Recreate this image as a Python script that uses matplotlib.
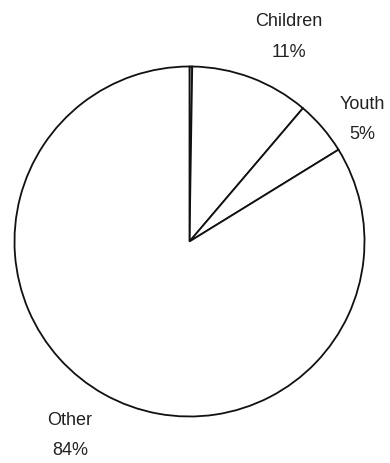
import matplotlib
matplotlib.use("Agg")
import matplotlib.pyplot as plt

plt.rcParams['font.family'] = ['Liberation Sans', 'DejaVu Sans']

# Share of population by group
groups = ["", "Children", "Youth", "Other"]
shares = [0.25, 11, 5, 84]
pct_labels = ["", "11%", "5%", "84%"]

# label anchor points (axes data units, pie radius = 1)
label_xy = [None, (0.569, 1.174), (0.985, 0.703), (-0.683, -1.103)]
line_gap = 0.087

W, H = 390, 464
cx, cy, r = 189.5, 242.5, 175

fig = plt.figure(figsize=(W / 100, H / 100), dpi=100)
ax = fig.add_axes([(cx - r) / W, (H - cy - r) / H, 2 * r / W, 2 * r / H])

wedges, _ = ax.pie(
    shares,
    startangle=90,
    counterclock=False,
    colors=["white"] * len(shares),
    wedgeprops=dict(edgecolor="#111111", linewidth=1.3),
    radius=1.0,
)
ax.set_xlim(-1, 1)
ax.set_ylim(-1, 1)
ax.set_aspect("equal")
ax.axis("off")

for name, pct, xy in zip(groups, pct_labels, label_xy):
    if xy is None:
        continue
    x, y = xy
    ax.text(x, y + line_gap, name, ha="center", va="center", fontsize=13,
            color="#222222", clip_on=False)
    ax.text(x, y - line_gap, pct, ha="center", va="center", fontsize=13,
            color="#222222", clip_on=False)

fig.savefig("out.png", dpi=100)
